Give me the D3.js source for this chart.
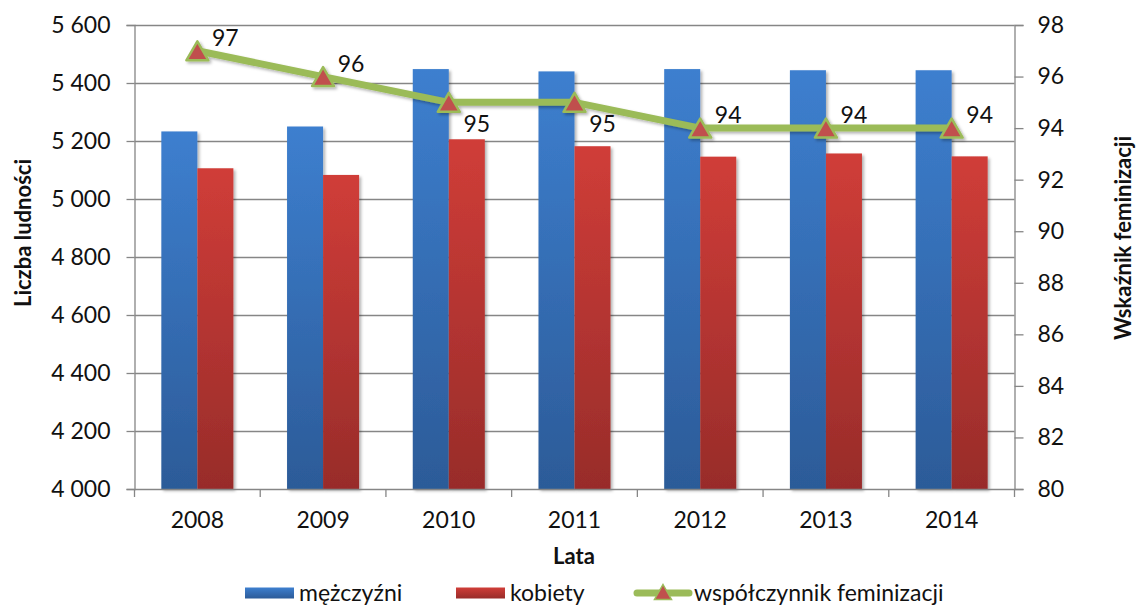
<!DOCTYPE html>
<html lang="pl">
<head>
<meta charset="utf-8">
<script src="https://cdn.jsdelivr.net/npm/d3@7"></script>
<style>
	body { margin: 0; background: #fff; }
	text { font-family: Lato, "Open Sans", sans-serif; fill: #111; }
</style>
</head>
<body>
<div id="chart"></div>
<script>
	const years = ["2008", "2009", "2010", "2011", "2012", "2013", "2014"];
	const men = [5233, 5250, 5448, 5440, 5448, 5444, 5444];
	const women = [5106, 5083, 5206, 5182, 5146, 5157, 5147];
	const femRatio = [97, 96, 95, 95, 94, 94, 94];
	const labelSide = ["above", "above", "below", "below", "above", "above", "above"];
	const leftTicks = [4000, 4200, 4400, 4600, 4800, 5000, 5200, 5400, 5600];
	const rightTicks = [80, 82, 84, 86, 88, 90, 92, 94, 96, 98];
	const seriesNames = ["mężczyźni", "kobiety", "współczynnik feminizacji"];

	const width = 1136;
	const height = 606;
	const margin = { top: 25, right: 121.5, bottom: 117, left: 134.5 };
	const innerW = width - margin.left - margin.right;
	const innerH = height - margin.top - margin.bottom;

	const axisColor = "#868686";
	const green = "#9bbb59";
	const markerRed = "#c0504d";
	const fontSize = 23;

	const svg = d3
		.select("#chart")
		.append("svg")
		.attr("width", width)
		.attr("height", height);

	const defs = svg.append("defs");

	// vertical gradients like the excel bar fill
	const gradBlue = defs.append("linearGradient").attr("id", "gBlue")
		.attr("x1", 0).attr("y1", 0).attr("x2", 0).attr("y2", 1);
	gradBlue.append("stop").attr("offset", "0%").attr("stop-color", "#3d7fcf");
	gradBlue.append("stop").attr("offset", "100%").attr("stop-color", "#2c5b98");

	const gradRed = defs.append("linearGradient").attr("id", "gRed")
		.attr("x1", 0).attr("y1", 0).attr("x2", 0).attr("y2", 1);
	gradRed.append("stop").attr("offset", "0%").attr("stop-color", "#d03d38");
	gradRed.append("stop").attr("offset", "100%").attr("stop-color", "#982c2a");

	const shadow = defs.append("filter").attr("id", "shadow")
		.attr("x", "-20%").attr("y", "-20%").attr("width", "150%").attr("height", "150%");
	shadow.append("feDropShadow")
		.attr("dx", 2).attr("dy", 2).attr("stdDeviation", 1.6)
		.attr("flood-color", "#000").attr("flood-opacity", 0.3);

	const g = svg.append("g")
		.attr("transform", `translate(${margin.left},${margin.top})`);

	const x = d3.scaleBand().domain(years).range([0, innerW]);
	const x1 = d3.scaleBand().domain(["m", "k"]).range([0, x.bandwidth()]).paddingOuter(0.745);
	const yL = d3.scaleLinear().domain([4000, 5600]).range([innerH, 0]);
	const yR = d3.scaleLinear().domain([80, 98]).range([innerH, 0]);

	const pl = d3.formatLocale({ decimal: ",", thousands: " ", grouping: [3], currency: ["", " zł"] });
	const fmt = pl.format(",");

	// gridlines
	g.append("g")
		.selectAll("line")
		.data(leftTicks.slice(1))
		.enter()
		.append("line")
		.attr("x1", 0)
		.attr("x2", innerW)
		.attr("y1", (d) => Math.round(yL(d)) + 0.5)
		.attr("y2", (d) => Math.round(yL(d)) + 0.5)
		.attr("stroke", axisColor)
		.attr("stroke-width", 1.3);

	// bars
	const barData = years.map((y, i) => [
		{ year: y, key: "m", v: men[i] },
		{ year: y, key: "k", v: women[i] },
	]).flat();

	g.append("g")
		.selectAll("rect")
		.data(barData)
		.enter()
		.append("rect")
		.attr("x", (d) => x(d.year) + x1(d.key))
		.attr("y", (d) => yL(d.v))
		.attr("width", x1.bandwidth())
		.attr("height", (d) => innerH - yL(d.v))
		.attr("fill", (d) => (d.key === "m" ? "url(#gBlue)" : "url(#gRed)"))
		.attr("filter", "url(#shadow)");

	// left axis
	const axL = g.append("g")
		.call(d3.axisLeft(yL).tickValues(leftTicks).tickSize(8).tickPadding(16).tickFormat(fmt));
	axL.select(".domain").attr("stroke", axisColor).attr("stroke-width", 1.3);
	axL.selectAll(".tick line").attr("stroke", axisColor).attr("stroke-width", 1.3);
	axL.selectAll(".tick text").attr("font-size", fontSize).attr("font-family", "Lato").attr("fill", "#111");

	// right axis
	const axR = g.append("g")
		.attr("transform", `translate(${innerW},0)`)
		.call(d3.axisRight(yR).tickValues(rightTicks).tickSize(9).tickPadding(14));
	axR.select(".domain").attr("stroke", axisColor).attr("stroke-width", 1.3);
	axR.selectAll(".tick line").attr("stroke", axisColor).attr("stroke-width", 1.3);
	axR.selectAll(".tick text").attr("font-size", fontSize).attr("font-family", "Lato").attr("fill", "#111");

	// bottom axis, ticks between categories
	const axB = g.append("g")
		.attr("transform", `translate(0,${innerH})`)
		.call(d3.axisBottom(x).tickSize(0).tickPadding(23));
	axB.select(".domain").attr("stroke", axisColor).attr("stroke-width", 1.3);
	axB.selectAll(".tick text").attr("font-size", fontSize).attr("font-family", "Lato").attr("fill", "#111");
	axB.selectAll(".bound")
		.data(years.concat(["end"]))
		.enter()
		.append("line")
		.attr("x1", (d) => (d === "end" ? innerW : x(d)))
		.attr("x2", (d) => (d === "end" ? innerW : x(d)))
		.attr("y1", 0)
		.attr("y2", 8)
		.attr("stroke", axisColor)
		.attr("stroke-width", 1.3);

	// feminization line
	const cx = (d, i) => x(years[i]) + x.bandwidth() / 2;
	const line = d3.line().x(cx).y((d) => yR(d));

	const triangle = (w, h) => `M0,${-h / 2}L${w / 2},${h / 2}L${-w / 2},${h / 2}Z`;

	const lineG = g.append("g").attr("filter", "url(#shadow)");
	lineG.append("path")
		.datum(femRatio)
		.attr("d", line)
		.attr("fill", "none")
		.attr("stroke", green)
		.attr("stroke-width", 7)
		.attr("stroke-linejoin", "round");

	lineG.selectAll(".mk")
		.data(femRatio)
		.enter()
		.append("path")
		.attr("transform", (d, i) => `translate(${cx(d, i)},${yR(d)})`)
		.attr("d", triangle(22, 19))
		.attr("fill", markerRed)
		.attr("stroke", green)
		.attr("stroke-width", 2.5)
		.attr("stroke-linejoin", "round");

	g.append("g")
		.selectAll("text")
		.data(femRatio)
		.enter()
		.append("text")
		.attr("x", (d, i) => cx(d, i) + 28)
		.attr("y", (d, i) => yR(d) + (labelSide[i] === "above" ? -13 : 22))
		.attr("dy", "0.35em")
		.attr("text-anchor", "middle")
		.attr("font-size", fontSize)
		.text((d) => d);

	// axis titles
	svg.append("text")
		.attr("transform", "translate(31,233) rotate(-90)")
		.attr("text-anchor", "middle")
		.attr("font-size", 22)
		.attr("font-weight", "bold")
		.text("Liczba ludności");

	svg.append("text")
		.attr("transform", "translate(1131,238) rotate(-90)")
		.attr("text-anchor", "middle")
		.attr("font-size", 22)
		.attr("font-weight", "bold")
		.text("Wskaźnik feminizacji");

	svg.append("text")
		.attr("x", 574)
		.attr("y", 564)
		.attr("text-anchor", "middle")
		.attr("font-size", 22)
		.attr("font-weight", "bold")
		.text("Lata");

	// legend
	const legendX = [245, 456, 634];
	const legend = svg.append("g").attr("transform", "translate(0,593)");

	legend.selectAll("rect")
		.data(seriesNames.slice(0, 2))
		.enter()
		.append("rect")
		.attr("x", (d, i) => legendX[i])
		.attr("y", -5.5)
		.attr("width", 49)
		.attr("height", 11)
		.attr("fill", (d, i) => (i === 0 ? "url(#gBlue)" : "url(#gRed)"));

	legend.append("line")
		.attr("x1", legendX[2] + 3)
		.attr("x2", legendX[2] + 55)
		.attr("stroke", green)
		.attr("stroke-width", 7)
		.attr("stroke-linecap", "round");

	legend.append("path")
		.attr("transform", `translate(${legendX[2] + 29},-1)`)
		.attr("d", triangle(17, 15))
		.attr("fill", markerRed)
		.attr("stroke", green)
		.attr("stroke-width", 1.5);

	legend.selectAll("text")
		.data(seriesNames)
		.enter()
		.append("text")
		.attr("x", (d, i) => legendX[i] + (i < 2 ? 54 : 60))
		.attr("y", 7.5)
		.attr("font-size", fontSize)
		.text((d) => d);
</script>
</body>
</html>
